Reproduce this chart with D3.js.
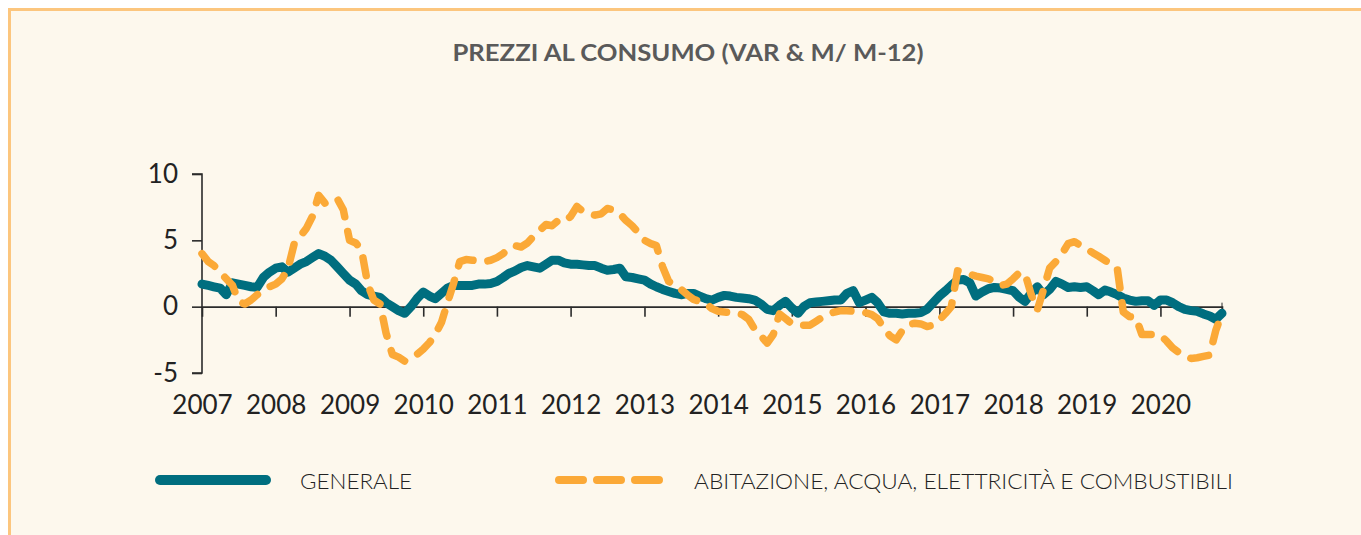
<!DOCTYPE html>
<html>
<head>
<meta charset="utf-8">
<script src="https://d3js.org/d3.v7.min.js"></script>
<style>
  body { margin: 0; background: #fff; }
  svg { display: block; }
  text { font-family: Lato, "DejaVu Sans", sans-serif; }
</style>
</head>
<body>
<svg></svg>
<script>
// monthly values, Jan 2007 .. Nov 2020
const startMonth = new Date(2007, 0, 1);

const generale = [
  1.7, 1.6, 1.5, 1.4, 0.9, 1.8, 1.7, 1.6, 1.5, 1.45, 2.2, 2.6,
  2.9, 3.0, 2.6, 2.9, 3.2, 3.4, 3.7, 4.0, 3.8, 3.5, 3.0, 2.5,
  2.0, 1.7, 1.2, 0.9, 0.8, 0.7, 0.3, 0.0, -0.3, -0.5, 0.0, 0.6,
  1.1, 0.8, 0.6, 1.0, 1.4, 1.6, 1.6, 1.6, 1.6, 1.7, 1.7, 1.75,
  1.9, 2.2, 2.5, 2.7, 2.95, 3.1, 3.0, 2.9, 3.2, 3.5, 3.5, 3.3,
  3.2, 3.2, 3.15, 3.1, 3.1, 2.9, 2.75, 2.8, 2.9, 2.25, 2.2, 2.1,
  2.0, 1.7, 1.5, 1.3, 1.15, 1.0, 0.9, 1.0, 1.0, 0.8, 0.6, 0.5,
  0.7, 0.85, 0.8, 0.7, 0.65, 0.6, 0.5, 0.2, -0.2, -0.3, 0.1, 0.4,
  -0.1, -0.5, 0.0, 0.3, 0.35, 0.4, 0.45, 0.5, 0.5, 1.0, 1.2, 0.3,
  0.5, 0.7, 0.3, -0.4, -0.5, -0.5, -0.55, -0.5, -0.5, -0.45, -0.2, 0.3,
  0.8, 1.2, 1.6, 2.0, 2.05, 1.8, 0.8, 1.1, 1.35, 1.45, 1.4, 1.3,
  1.2, 0.7, 0.4, 1.0, 1.5, 0.9, 1.3, 1.9, 1.7, 1.45, 1.5, 1.45,
  1.5, 1.2, 0.9, 1.25, 1.1, 0.9, 0.65, 0.5, 0.4, 0.45, 0.45, 0.1,
  0.5, 0.5, 0.3, 0.0, -0.2, -0.3, -0.35, -0.55, -0.7, -0.95, -0.5
];

const abitazione = [
  4.0, 3.4, 3.1, 2.6, 2.1, 1.6, 0.4, 0.2, 0.5, 0.9, 1.2, 1.5,
  1.7, 2.1, 2.8, 4.7, 5.3, 5.9, 6.8, 8.4, 7.8, 8.0, 8.15, 7.3,
  5.0, 4.8, 4.3, 1.7, 0.5, 0.2, -2.0, -3.6, -3.8, -4.1, -3.9, -3.6,
  -3.2, -2.7, -2.1, -1.2, 0.3, 1.8, 3.4, 3.55, 3.5, 3.45, 3.4, 3.5,
  3.7, 4.0, 4.4, 4.6, 4.5, 4.8, 5.3, 5.75, 6.2, 6.1, 6.5, 6.4,
  6.8, 7.55, 7.2, 7.0, 6.9, 7.0, 7.4, 7.3, 7.0, 6.5, 6.1, 5.6,
  5.0, 4.75, 4.6, 3.0, 1.9, 1.6, 1.3, 0.9, 0.55, 0.4, 0.25, -0.15,
  -0.35, -0.4, -0.45, -0.5, -0.6, -0.95, -1.7, -2.2, -2.75, -2.1, -0.55, -0.9,
  -1.3, -1.4, -1.4, -1.4, -1.1, -0.8, -0.55, -0.4, -0.3, -0.3, -0.35, -0.4,
  -0.45, -0.6, -0.9, -1.6, -2.2, -2.5, -1.8, -1.35, -1.25, -1.3, -1.5, -1.4,
  -1.0, -0.5, 0.0, 2.7, 2.6, 2.45, 2.3, 2.2, 2.1, 1.85, 1.6, 1.7,
  2.1, 2.55, 2.5, 0.9, -0.25, 1.3, 2.9, 3.4, 4.0, 4.75, 4.9, 4.6,
  4.35, 4.05, 3.8, 3.5, 3.2, 2.9, -0.4, -0.75, -0.8, -2.1, -2.1, -2.1,
  -2.15, -2.6, -3.1, -3.45, -3.7, -3.9, -3.85, -3.75, -3.65, -1.8, -0.5
];

const yTicks = [-5, 0, 5, 10];
const yearTicks = d3.range(2007, 2021);
const seriesNames = ["GENERALE", "ABITAZIONE, ACQUA, ELETTRICITÀ E COMBUSTIBILI"];
const title = "PREZZI AL CONSUMO (VAR & M/ M-12)";

let width = 1361;
let height = 535;
let teal = "#006e7f";
let orange = "#fba937";

let months = generale.map((d, i) => d3.timeMonth.offset(startMonth, i));

let svg = d3.select("svg")
            .attr("width", width)
            .attr("height", height);

// card background
svg.append("rect")
   .attr("x", 9.5)
   .attr("y", 9.5)
   .attr("width", 1500)
   .attr("height", 700)
   .attr("fill", "#fdf8ed")
   .attr("stroke", "#fcc67e")
   .attr("stroke-width", 3);

// title
svg.append("text")
   .attr("x", 688)
   .attr("y", 61)
   .attr("text-anchor", "middle")
   .attr("fill", "#5a5a5a")
   .style("font-size", "23px")
   .style("font-weight", "bold")
   .attr("textLength", 471)
   .attr("lengthAdjust", "spacingAndGlyphs")
   .text(title);

let xScale = d3.scaleTime()
               .domain([months[0], months[months.length - 1]])
               .range([202, 1222]);

let yScale = d3.scaleLinear()
               .domain([-5, 10])
               .range([373, 174]);

// y axis (plain hyphen for negatives, as in the source)
let yAxis = svg.append("g")
   .attr("transform", "translate(202,0)")
   .call(d3.axisLeft(yScale).tickValues(yTicks).tickFormat(d => String(d)).tickSize(10).tickPadding(14));
yAxis.select(".domain").attr("d", `M-10,${yScale(10)}H0V${yScale(-5)}H-10`);

// x axis on the zero line
let xAxis = svg.append("g")
   .attr("transform", `translate(0,${yScale(0)})`)
   .call(d3.axisBottom(xScale)
           .tickValues(yearTicks.map(y => new Date(y, 0, 1)))
           .tickFormat(d3.timeFormat("%Y"))
           .tickSize(10)
           .tickPadding(79));
xAxis.selectAll(".tick").filter((d, i) => i === 0).select("line").remove();
xAxis.append("line")
     .attr("x1", 1222).attr("x2", 1222)
     .attr("y1", -4).attr("y2", 10)
     .attr("stroke", "#2b2b2b");

svg.selectAll(".domain, .tick line")
   .attr("stroke", "#2b2b2b")
   .attr("stroke-width", 1.6);
svg.selectAll(".tick text")
   .attr("fill", "#222")
   .style("font-size", "26px")
   .style("font-family", "Lato, sans-serif");

let line = d3.line()
             .x((d, i) => xScale(months[i]))
             .y(d => yScale(d));

svg.append("path")
   .datum(generale)
   .attr("d", line)
   .attr("fill", "none")
   .attr("stroke", teal)
   .attr("stroke-width", 9)
   .attr("stroke-linejoin", "round")
   .attr("stroke-linecap", "round");

svg.append("path")
   .datum(abitazione)
   .attr("d", line)
   .attr("fill", "none")
   .attr("stroke", orange)
   .attr("stroke-width", 7.5)
   .attr("stroke-dasharray", "18,15")
   .attr("stroke-linejoin", "round")
   .attr("stroke-linecap", "round");

// legend
let legend = svg.append("g");
legend.append("line")
      .attr("x1", 160).attr("x2", 266)
      .attr("y1", 480).attr("y2", 480)
      .attr("stroke", teal)
      .attr("stroke-width", 10)
      .attr("stroke-linecap", "round");
legend.append("text")
      .attr("x", 300).attr("y", 489)
      .attr("fill", "#222")
      .style("font-size", "22px")
      .style("font-weight", 300)
      .attr("textLength", 112)
      .attr("lengthAdjust", "spacingAndGlyphs")
      .text(seriesNames[0]);
legend.append("line")
      .attr("x1", 559).attr("x2", 660)
      .attr("y1", 480).attr("y2", 480)
      .attr("stroke", orange)
      .attr("stroke-width", 8)
      .attr("stroke-dasharray", "24,14")
      .attr("stroke-linecap", "round");
legend.append("text")
      .attr("x", 694).attr("y", 489)
      .attr("fill", "#222")
      .style("font-size", "22px")
      .style("font-weight", 300)
      .attr("textLength", 539)
      .attr("lengthAdjust", "spacingAndGlyphs")
      .text(seriesNames[1]);
</script>
</body>
</html>
